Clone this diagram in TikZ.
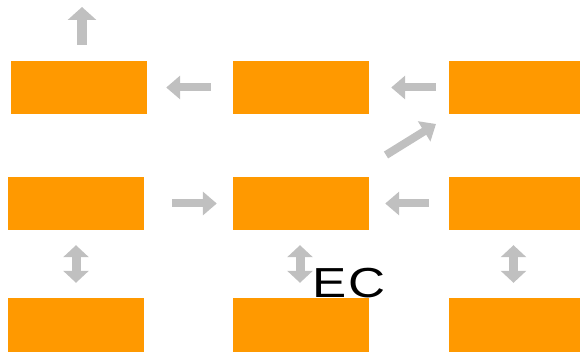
\documentclass[tikz,border=0pt]{standalone}
\usepackage{fontspec}
\setmainfont{Liberation Sans}
\usetikzlibrary{arrows.meta}
\definecolor{boxorange}{RGB}{255,153,0}
\definecolor{arrowgray}{RGB}{192,192,192}
\tikzset{
  block/.style={fill=boxorange, draw=none, minimum width=136pt, minimum height=53pt, inner sep=0pt},
  garrow/.style={draw=arrowgray, line width=8pt, -{Triangle[width=23pt,length=14pt,fill=arrowgray]}},
  gdouble/.style={draw=arrowgray, line width=9pt, {Triangle[width=25pt,length=12pt,fill=arrowgray]}-{Triangle[width=25pt,length=12pt,fill=arrowgray]}}
}
\begin{document}
\begin{tikzpicture}[x=1pt,y=1pt,yscale=-1]
\useasboundingbox (0,0) rectangle (580,352);

% top row
\node [block] (outA) at (79,87.5) {};
\node [block] (outB) at (301,87.5) {};
\node [block, minimum width=131pt] (outC) at (514.5,87.5) {};
% middle row
\node [block] (midA) at (76,203.5) {};
\node [block] (midB) at (301,203.5) {};
\node [block, minimum width=131pt] (midC) at (514.5,203.5) {};
% bottom row
\node [block, minimum height=54pt] (lowA) at (76,325) {};
\node [block, minimum height=54pt] (lowB) at (301,325) {};
\node [block, minimum width=131pt, minimum height=54pt] (lowC) at (514.5,325) {};

% free ends
\coordinate (upEnd) at (82,7);
\coordinate (diagTail) at (386,155);
\coordinate (diagTip) at (436,124);

% Text Node
\node [inner sep=0pt, anchor=base west, font=\fontsize{42}{42}\selectfont] (ecLabel) at (312,297.5) {\scalebox{1.22}[1]{E\kern2pt C}};

% arrows
\draw [garrow, line width=10pt, -{Triangle[width=28pt,length=13pt,fill=arrowgray]}] (outA.north -| upEnd) ++(0,-16) -- (upEnd);
\draw [garrow, shorten <=22pt, shorten >=19pt] (outB.west) -- (outA.east);
\draw [garrow, shorten <=13pt, shorten >=22pt] (outC.west) -- (outB.east);
\draw [garrow] (diagTail) -- (diagTip);
\draw [garrow, shorten <=28pt, shorten >=16pt] (midA.east) -- (midB.west);
\draw [garrow, shorten <=20pt, shorten >=16pt] (midC.west) -- (midB.east);
\draw [gdouble, shorten <=15pt, shorten >=15pt] (midA.south) -- (lowA.north);
\draw [gdouble, shorten <=15pt, shorten >=15pt] ([xshift=-1pt]midB.south) -- ([xshift=-1pt]lowB.north);
\draw [gdouble, shorten <=15pt, shorten >=15pt] ([xshift=-1pt]midC.south) -- ([xshift=-1pt]lowC.north);

\end{tikzpicture}
\end{document}
